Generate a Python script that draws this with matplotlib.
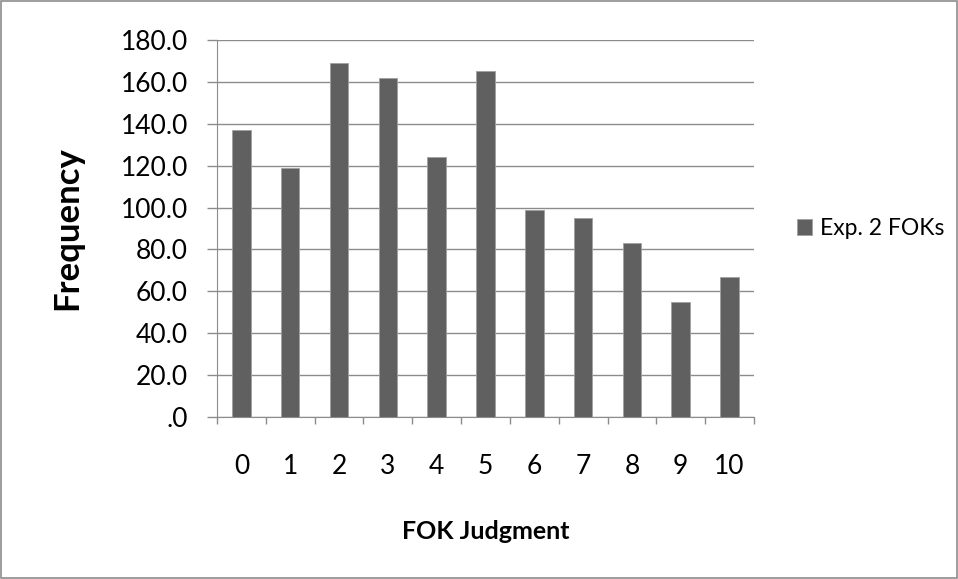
import matplotlib.pyplot as plt
import numpy as np

categories = [str(i) for i in range(11)]
frequency = [137, 119, 169, 162, 124, 165, 99, 95, 83, 55, 67]
y_ticks = [0, 20, 40, 60, 80, 100, 120, 140, 160, 180]
y_labels = [".0"] + [f"{v:.1f}" for v in y_ticks[1:]]

plt.rcParams["font.family"] = ["Lato", "DejaVu Sans"]

fig = plt.figure(figsize=(9.58, 5.79), dpi=100)
ax = fig.add_axes([0.2265, 0.2798, 0.5605, 0.651])

x = np.arange(len(categories))
ax.bar(x, frequency, width=0.38, color="#606060", edgecolor="#a0a0a0",
       linewidth=0.6, label="Exp. 2 FOKs", zorder=3)

ax.set_xlim(-0.5, len(categories) - 0.5)
ax.set_ylim(0, 180)
ax.set_yticks(y_ticks)
ax.set_yticklabels(y_labels)
ax.yaxis.grid(True, color="#8c8c8c", linewidth=1.0, zorder=0)

# category labels centered, tick marks at boundaries
ax.set_xticks(x)
ax.set_xticklabels(categories)
ax.tick_params(axis="x", which="major", length=0, pad=27, labelsize=19)
ax.set_xticks(np.arange(-0.5, len(categories)), minor=True)
ax.tick_params(axis="x", which="minor", length=5, color="#8c8c8c", width=1)
ax.tick_params(axis="y", length=7, color="#8c8c8c", width=1, labelsize=19, pad=14)

for side in ["top", "right"]:
    ax.spines[side].set_visible(False)
for side in ["left", "bottom"]:
    ax.spines[side].set_color("#8c8c8c")

ax.set_xlabel("FOK Judgment", fontsize=18, fontweight="bold", labelpad=29)
ax.set_ylabel("Frequency", fontsize=25, fontweight="bold", labelpad=27)

ax.legend(loc="center left", bbox_to_anchor=(1.0, 0.5), frameon=False,
          fontsize=16.5, handlelength=0.65, handleheight=0.65, handletextpad=0.35,
          borderaxespad=1.5)

# outer border
fig.patches.append(plt.Rectangle((0.001, 0.001), 0.998, 0.998, transform=fig.transFigure,
                                 fill=False, edgecolor="#8c8c8c", linewidth=1.2))

fig.savefig("out.png", dpi=100)
